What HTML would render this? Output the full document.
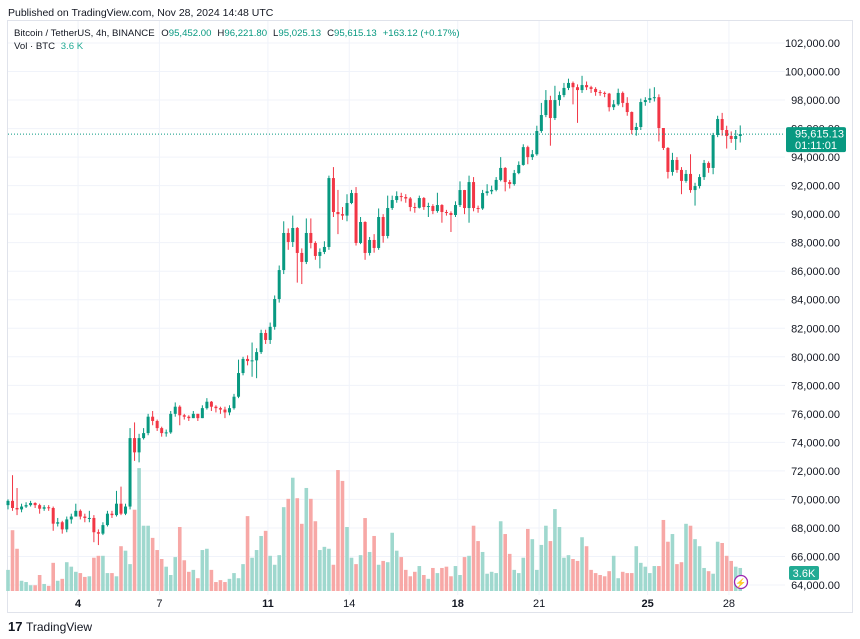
<!DOCTYPE html>
<html><head><meta charset="utf-8"><style>
body{margin:0;background:#fff;font-family:"Liberation Sans",sans-serif;}
svg{display:block}
</style></head><body>
<svg id="chart" width="860" height="639" viewBox="0 0 860 639" xmlns="http://www.w3.org/2000/svg" font-family="Liberation Sans, sans-serif">
<rect width="860" height="639" fill="#fff"/>
<text x="8" y="16" font-size="10.5" fill="#131722">Published on TradingView.com, Nov 28, 2024 14:48 UTC</text>
<rect x="7.5" y="20.5" width="845" height="592" fill="none" stroke="#e0e3eb"/>
<g id="grid"></g>
<g id="vols"></g>
<g id="candles"></g>
<g id="yaxis"></g>
<g id="xaxis"></g>
<g font-size="9.6">
<text x="14" y="36" fill="#131722">Bitcoin / TetherUS, 4h, BINANCE <tspan dx="4">O</tspan><tspan fill="#089981">95,452.00</tspan><tspan dx="6">H</tspan><tspan fill="#089981">96,221.80</tspan><tspan dx="6">L</tspan><tspan fill="#089981">95,025.13</tspan><tspan dx="6">C</tspan><tspan fill="#089981">95,615.13</tspan><tspan dx="6" fill="#089981">+163.12 (+0.17%)</tspan></text>
<text x="14" y="49" fill="#131722">Vol · BTC <tspan fill="#22ab94" dx="3">3.6 K</tspan></text>
</g>
<g>
<text x="8" y="631" font-size="13" font-weight="bold" fill="#131722">17</text>
<text x="26" y="631" font-size="12" fill="#131722">TradingView</text>
</g>
<g>
<circle cx="741" cy="582" r="6.5" fill="#fff" stroke="#9c27b0" stroke-width="1.3"/>
<text x="741" y="586" font-size="9" text-anchor="middle" fill="#9c27b0">⚡</text>
</g>
</svg>
<script>
const yTicks=[64000,66000,68000,70000,72000,74000,76000,78000,80000,82000,84000,86000,88000,90000,92000,94000,96000,98000,100000,102000];
const dayLabels=["4","7","11","14","18","21","25","28"];
const dayIndex=[15.5,33.5,57.5,75.5,99.5,117.5,141.5,159.5];
const boldDays=["4","11","18","25"];
const firstOpen=69600;
const closes=[69900,69400,69300,69500,69600,69750,69600,69350,69450,69400,68300,68400,67900,68600,68800,69200,68800,68700,68700,67700,67600,68200,69000,68900,69700,69000,69500,74300,73300,74300,74650,75800,75500,75000,74650,74700,76000,76500,75900,75800,75700,76000,75700,76400,76850,76500,76400,76300,76100,76400,77200,
78860,79850,79700,79750,80330,81670,81180,82100,84050,86080,88680,88050,89030,87280,86650,88680,87980,87070,87350,87700,92530,90150,90000,89900,90780,91480,87980,89450,87280,88190,87630,89800,88470,90430,90990,91270,91200,91100,90500,90450,
91130,90500,90570,90220,90640,90150,90080,89940,90640,91690,90430,92250,90430,90400,91480,91600,91700,92400,93240,92250,92110,92880,93450,94700,94000,94200,95830,96950,98000,96740,98000,98350,98850,99200,98900,98700,99050,98900,98780,98560,98500,98450,97500,97700,
98500,97800,97160,95900,96110,97860,98000,98140,98200,96040,94640,92960,93800,93100,92330,92820,91690,91970,92600,93590,93240,95550,96670,95900,95480,95270,95480,95615];
const highs=[70000,71700,70800,69700,69800,69900,69800,69700,69600,69600,69500,68700,68500,68800,69000,69700,69300,69000,69200,68900,67900,68400,69200,69200,70600,70900,69700,75000,75400,74600,75000,76000,76200,75600,75100,74900,76200,76800,76600,76000,75900,76200,75900,76600,77100,76900,76600,76500,76500,76600,77400,
79800,80000,80100,81000,80600,81900,81900,82400,84300,86400,89500,89000,89900,89100,87600,89700,89700,88100,87600,88100,92700,93300,91700,90500,91400,91700,91900,89800,89500,88400,88600,90400,90000,91300,91300,91600,91500,91400,91200,90800,
91300,91200,90800,90700,91500,90700,90300,90200,90900,92300,91700,92700,92600,90600,91700,92100,92000,92600,94000,93300,92400,93100,93700,94900,94800,94500,96200,97800,98700,98300,99000,98600,99200,99500,99300,99100,99700,99300,99000,98900,98700,98600,98500,98000,
98800,98600,98200,97200,96400,98100,98200,98800,98900,98400,95900,94700,94300,94000,93300,93100,94200,92200,92800,93800,93700,95700,96900,97100,96200,95800,95900,96221];
const lows=[69300,69200,68900,69100,69400,69500,69400,69000,69200,69200,67800,68100,67600,67700,68300,68800,68600,68400,68400,67000,66800,67500,68100,68700,68800,68900,68900,69300,72700,72600,74200,74500,75200,74800,74400,74400,74600,75800,75200,75600,75500,75700,75500,75800,76300,76200,76100,76000,75700,75900,76300,
77100,78700,79400,78600,78500,80200,80900,80900,81900,83800,85800,87500,87700,85200,85100,86500,87600,86800,86200,87200,87500,89800,88600,89600,89500,90700,87800,87900,86800,87100,87300,87500,88000,88300,90300,90800,90900,90800,90200,90100,
90400,90300,89800,90000,90100,89400,89900,88750,89800,90500,90000,89400,90200,90100,90300,91300,91400,91600,92300,91600,91800,92000,92800,93400,93500,93800,94100,95700,96800,94800,96600,97600,98200,98700,97700,96400,98500,98700,98500,98300,98300,98200,97200,97300,
97600,97500,96900,95600,95500,95900,97600,97800,97900,95100,94500,92500,92700,92900,91400,92200,91500,90600,91800,92400,92900,92800,95400,95500,94600,95000,94500,95025];
const volumes=[3.3,9.5,6.6,1.6,1.4,0.9,0.9,2.5,1.1,0.8,4.4,1.6,1.9,4.5,3.8,3.0,2.8,2.2,2.3,5.2,5.5,5.5,2.8,2.8,2.3,7.0,6.3,4.2,12.7,19.2,10.2,10.2,8.3,6.4,5.0,3.8,2.5,5.3,10.0,4.8,3.0,3.3,2.0,6.4,6.6,3.3,1.4,1.7,1.4,1.9,2.8,2.0,4.2,11.7,5.2,6.4,8.6,9.4,5.5,4.1,5.6,13.1,14.4,17.7,14.5,10.5,16.1,14.4,10.9,6.4,6.9,6.6,4.1,18.9,17.2,10.0,5.2,4.2,5.6,11.4,6.1,8.6,4.1,4.7,4.5,9.1,6.3,5.3,3.3,2.3,3.0,3.9,2.5,1.9,3.6,
2.8,3.6,3.8,2.3,3.9,2.5,5.3,5.5,10.2,7.8,6.1,2.7,3.0,2.8,10.9,8.9,5.8,3.3,2.8,5.2,9.7,8.1,3.3,7.2,10.2,7.8,12.8,10.0,5.2,5.6,5.0,4.7,8.4,7.0,3.3,2.8,2.5,2.3,3.1,5.5,2.0,3.0,2.8,2.8,7.0,4.4,3.8,2.8,3.9,3.9,11.1,7.7,8.9,4.2,4.5,10.5,10.2,8.1,7.0,3.6,3.1,2.7,7.7,7.5,5.5,4.7,3.8,3.6];
const lastPriceLabel="95,615.13", countdown="01:11:01", volLabel="3.6K";

const NS="http://www.w3.org/2000/svg";
const X0=8, STEP=4.52, PLOT_R=785, VOL_BASE=591, VOL_K=6.4;
const y=p=>585-(p-64000)*542/38000;
const x=i=>X0+i*STEP;
const vh=v=>v*VOL_K;
function mk(tag,attrs,parent){const e=document.createElementNS(NS,tag);for(const k in attrs)e.setAttribute(k,attrs[k]);parent.appendChild(e);return e;}
const G=document.getElementById('grid'),C=document.getElementById('candles'),V=document.getElementById('vols'),YA=document.getElementById('yaxis'),XA=document.getElementById('xaxis');
yTicks.forEach(p=>{
  const l=mk('line',{x1:8,x2:PLOT_R,y1:y(p),y2:y(p),stroke:'#f0f3fa'},G);
  
  
  const t=mk('text',{x:840,y:y(p)+4,'font-size':11,'text-anchor':'end',fill:'#131722'},YA);
  
  
  t.textContent=p.toLocaleString('en-US',{minimumFractionDigits:2});
});
dayLabels.forEach((d,k)=>{
  const xx=x(dayIndex[k]);
  const l=mk('line',{x1:xx,x2:xx,y1:21,y2:595,stroke:'#f0f3fa'},G);
  
  
  const t=mk('text',{x:xx,y:607,'font-size':11,'text-anchor':'middle',fill:'#131722','font-weight':boldDays.includes(d)?'bold':'normal'},XA);
  
  
  t.textContent=d;
});
closes.forEach((c,i)=>{
  const o=i===0?firstOpen:closes[i-1];
  const up=c>=o;
  const col=up?'#089981':'#f23645';
  const vcol=up?'#9fd8ce':'#f7a8a6';
  const cx=x(i);
  const h=Math.max(highs[i],o,c), lo=Math.min(lows[i],o,c);
  const vb=mk('rect',{x:cx-1.8,y:VOL_BASE-vh(volumes[i]),width:3.6,height:vh(volumes[i]),fill:vcol},V);
  
  
  const w=mk('line',{x1:cx,x2:cx,y1:y(h),y2:y(lo),stroke:col,'stroke-width':1},C);
  
  
  const top=y(Math.max(o,c)),bh=Math.max(1,Math.abs(y(o)-y(c)));
  const b=mk('rect',{x:cx-1.5,y:top,width:3,height:bh,fill:col},C);
  
  
});
const lastY=y(closes[closes.length-1]);
const pl=mk('line',{x1:8,x2:PLOT_R,y1:lastY,y2:lastY,stroke:'#089981','stroke-dasharray':'1 2','stroke-width':1},C);


const box=mk('rect',{x:786,y:lastY-7,width:60,height:25,rx:2,fill:'#089981'},YA);


const t1=mk('text',{x:795,y:lastY+3.5,'font-size':11,fill:'#fff'},YA);


t1.textContent=lastPriceLabel;
const t2=mk('text',{x:795,y:lastY+15,'font-size':11,fill:'#fff'},YA);


t2.textContent=countdown;
const vb=mk('rect',{x:789,y:566,width:30,height:14,rx:2,fill:'#22ab94'},YA);


const vt=mk('text',{x:804,y:577,'font-size':11,'text-anchor':'middle',fill:'#fff'},YA);


vt.textContent=volLabel;
</script>
</body></html>
